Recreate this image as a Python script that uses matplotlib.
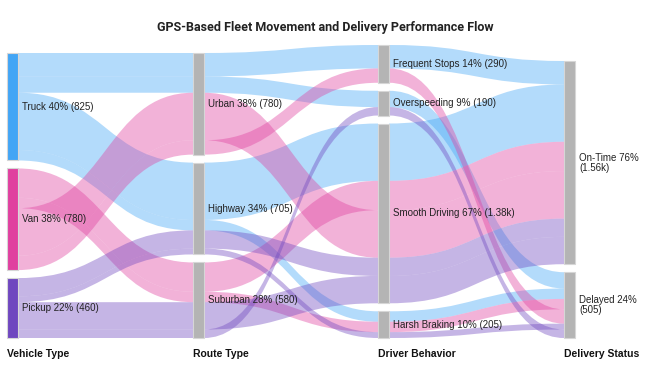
import matplotlib
matplotlib.use("Agg")
import matplotlib.pyplot as plt
from matplotlib.path import Path
from matplotlib.patches import PathPatch, Rectangle

# columns of the flow
vehicles = ["Truck", "Van", "Pickup"]
routes = ["Urban", "Highway", "Suburban"]
behaviors = ["Frequent Stops", "Overspeeding", "Smooth Driving", "Harsh Braking"]
statuses = ["On-Time", "Delayed"]
column_titles = ["Vehicle Type", "Route Type", "Driver Behavior", "Delivery Status"]

# one entry per trip path: vehicle -> route -> behavior -> status
path_vehicle = ["Truck", "Truck", "Truck", "Truck", "Van", "Van", "Van", "Van",
                "Pickup", "Pickup", "Pickup", "Pickup"]
path_route = ["Urban", "Urban", "Highway", "Highway", "Suburban", "Suburban", "Urban", "Urban",
              "Highway", "Highway", "Suburban", "Suburban"]
path_behavior = ["Frequent Stops", "Overspeeding", "Smooth Driving", "Harsh Braking",
                 "Smooth Driving", "Harsh Braking", "Smooth Driving", "Frequent Stops",
                 "Smooth Driving", "Harsh Braking", "Smooth Driving", "Overspeeding"]
path_status = ["On-Time", "Delayed", "On-Time", "Delayed", "On-Time", "Delayed", "On-Time", "Delayed",
               "On-Time", "Delayed", "On-Time", "Delayed"]
path_count = [180, 125, 440, 80, 225, 80, 365, 110, 140, 45, 210, 65]

vehicle_colors = {"Truck": "#42a5f5", "Van": "#e0409f", "Pickup": "#6f47bf"}
node_grey = "#b4b4b4"

columns = [vehicles, routes, behaviors, statuses]
path_cols = [path_vehicle, path_route, path_behavior, path_status]
total = sum(path_count)

fig = plt.figure(figsize=(6.5, 3.79), dpi=100)
ax = fig.add_axes([0, 0, 1, 1])
ax.set_xlim(0, 650)
ax.set_ylim(379, 0)
ax.axis("off")

bottom = 338
gap = 8
k = 269 / total
node_x = [7, 193, 378, 564]
node_w = 11

# node positions (stacked from a common bottom line)
node_top = {}
node_val = {}
for c, names in enumerate(columns):
    vals = [sum(v for n, v in zip(path_cols[c], path_count) if n == name) for name in names]
    y = bottom - sum(vals) * k - gap * (len(names) - 1)
    for name, v in zip(names, vals):
        node_top[(c, name)] = y
        node_val[(c, name)] = v
        y += v * k + gap


def ribbon(x0, y0a, y0b, x1, y1a, y1b, color):
    xm = (x0 + x1) / 2
    verts = [(x0, y0a), (xm, y0a), (xm, y1a), (x1, y1a),
             (x1, y1b), (xm, y1b), (xm, y0b), (x0, y0b), (x0, y0a)]
    codes = [Path.MOVETO, Path.CURVE4, Path.CURVE4, Path.CURVE4,
             Path.LINETO, Path.CURVE4, Path.CURVE4, Path.CURVE4, Path.CLOSEPOLY]
    ax.add_patch(PathPatch(Path(verts, codes), facecolor=color, edgecolor="none",
                           alpha=0.4, zorder=1))


# links, stacked at every node in path order
for c in range(3):
    out_off = {}
    in_off = {}
    for i, v in enumerate(path_count):
        src = (c, path_cols[c][i])
        dst = (c + 1, path_cols[c + 1][i])
        s0 = node_top[src] + out_off.get(src, 0)
        d0 = node_top[dst] + in_off.get(dst, 0)
        h = v * k
        out_off[src] = out_off.get(src, 0) + h
        in_off[dst] = in_off.get(dst, 0) + h
        ribbon(node_x[c] + node_w, s0, s0 + h, node_x[c + 1], d0, d0 + h,
               vehicle_colors[path_vehicle[i]])

# nodes and labels
for c, names in enumerate(columns):
    for name in names:
        y = node_top[(c, name)]
        v = node_val[(c, name)]
        h = v * k
        fc = vehicle_colors[name] if c == 0 else node_grey
        ax.add_patch(Rectangle((node_x[c], y), node_w, h, facecolor=fc,
                               edgecolor="#d6d6d6", lw=0.8, zorder=3))
        vtxt = f"{v / 1000:.2f}k" if v >= 1000 else str(v)
        pct = round(100 * v / total)
        if c == 3:
            label = f"{name} {pct}%\n({vtxt})"
        else:
            label = f"{name} {pct}% ({vtxt})"
        ax.text(node_x[c] + node_w + 4, y + h / 2, label, fontsize=7,
                family="Liberation Sans", color="#222222", va="center", ha="left",
                linespacing=1.0, zorder=4)

for c, t in enumerate(column_titles):
    ax.text(node_x[c], 354, t, fontsize=7.5, fontweight="bold", family="Liberation Sans",
            color="#111111", va="center", ha="left")

ax.text(325, 28, "GPS-Based Fleet Movement and Delivery Performance Flow", fontsize=9,
        fontweight="bold", family=["Liberation Sans Narrow", "Roboto"], color="#222222",
        va="center", ha="center")

fig.savefig("out.png", dpi=100)
